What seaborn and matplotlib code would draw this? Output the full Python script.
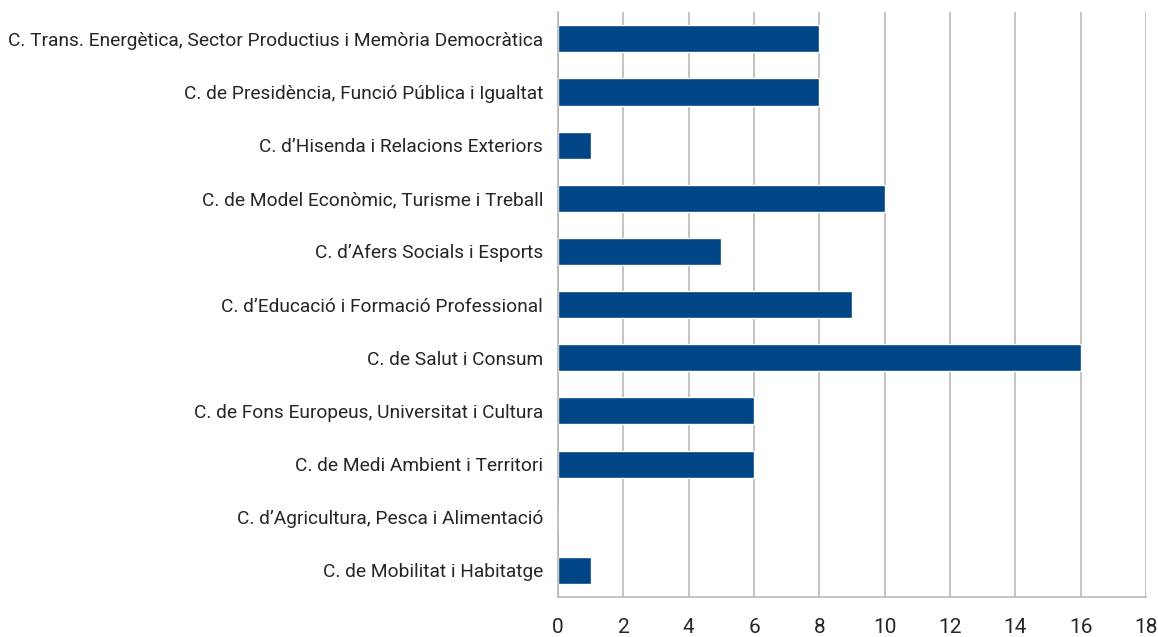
import numpy as np
import pandas as pd
import seaborn as sns
import matplotlib.pyplot as plt

conselleries = [
    "C. Trans. Energètica, Sector Productius i Memòria Democràtica",
    "C. de Presidència, Funció Pública i Igualtat",
    "C. d\u2019Hisenda i Relacions Exteriors",
    "C. de Model Econòmic, Turisme i Treball",
    "C. d\u2019Afers Socials i Esports",
    "C. d\u2019Educació i Formació Professional",
    "C. de Salut i Consum",
    "C. de Fons Europeus, Universitat i Cultura",
    "C. de Medi Ambient i Territori",
    "C. d\u2019Agricultura, Pesca i Alimentació",
    "C. de Mobilitat i Habitatge",
]
valors = [8, 8, 1, 10, 5, 9, 16, 6, 6, 0, 1]
x_ticks = list(range(0, 19, 2))

sns.set_style("white")
plt.rcParams["font.family"] = ["Roboto", "DejaVu Sans"]

df = pd.DataFrame({"conselleria": conselleries, "valor": valors})

fig = plt.figure(figsize=(11.58, 6.37), dpi=100)
ax = fig.add_axes([0.482, 0.0628, 0.5076, 0.918])
sns.barplot(data=df, y="conselleria", x="valor", orient="h", color="#004586",
            saturation=1, width=0.51, ax=ax)

grid_c = "#b3b3b3"
ax.set_xlim(0, 18)
ax.set_ylim(len(conselleries) - 0.5, -0.5)
ax.set_xticks(x_ticks)
ax.set_xticklabels([str(t) for t in x_ticks], fontsize=15)
ax.xaxis.grid(True, color=grid_c, linewidth=1.1)
ax.set_axisbelow(True)
ax.set_xlabel("")
ax.set_ylabel("")

ax.set_yticks(np.arange(len(conselleries)))
ax.set_yticklabels(conselleries, fontsize=13.8)
ax.tick_params(axis="y", which="major", length=0, pad=11)
ax.set_yticks(np.arange(-0.5, len(conselleries), 1), minor=True)
ax.tick_params(axis="y", which="minor", length=8, color=grid_c, width=1.1)
ax.tick_params(axis="x", which="major", length=8, color=grid_c, width=1.1, pad=7)

for s in ["top", "right"]:
    ax.spines[s].set_visible(False)
for s in ["left", "bottom"]:
    ax.spines[s].set_color(grid_c)
    ax.spines[s].set_linewidth(1.1)

fig.savefig("out.png", dpi=100)
